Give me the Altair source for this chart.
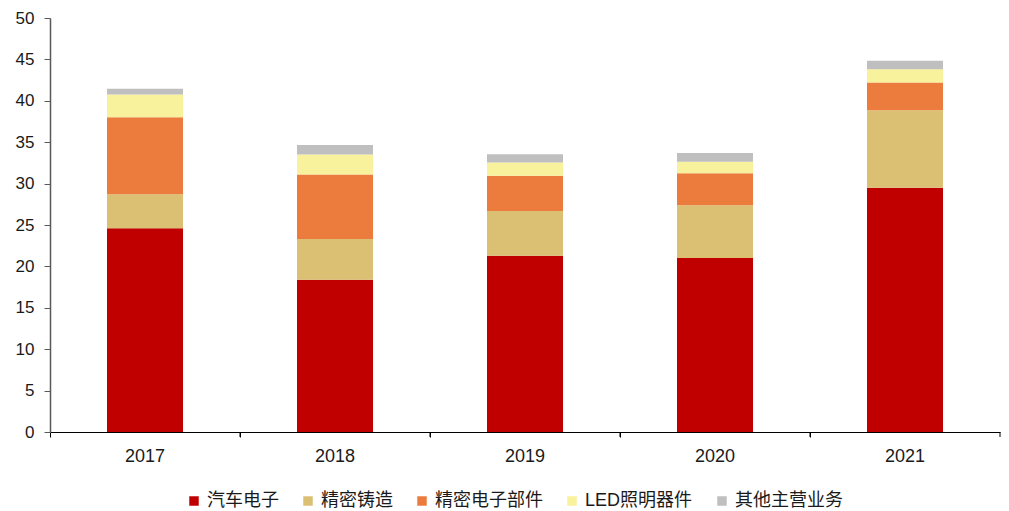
import altair as alt
import pandas as pd

# Revenue by business line (亿元), one stacked bar per year
years = ["2017", "2018", "2019", "2020", "2021"]
series = ["汽车电子", "精密铸造", "精密电子部件", "LED照明器件", "其他主营业务"]
colors = ["#C00000", "#DBC074", "#EB7C3D", "#F9F29C", "#BFBFBF"]

auto_electronics = [24.6, 18.4, 21.3, 21.0, 29.5]
precision_casting = [4.1, 4.9, 5.4, 6.4, 9.35]
precision_parts = [9.3, 7.8, 4.25, 3.85, 3.35]
led_lighting = [2.75, 2.4, 1.6, 1.4, 1.6]
other_business = [0.7, 1.15, 1.0, 1.05, 1.05]

values_by_series = [auto_electronics, precision_casting, precision_parts,
                    led_lighting, other_business]

rows = []
for s_idx, (name, vals) in enumerate(zip(series, values_by_series)):
    for year, v in zip(years, vals):
        rows.append({"year": year, "series": name, "value": v, "order": s_idx})
df = pd.DataFrame(rows)

font = "Liberation Sans, Arial, Noto Sans CJK SC"

x_scale = alt.Scale(domain=years, paddingInner=0, paddingOuter=0)

bars = alt.Chart(df).mark_bar(width=alt.RelativeBandSize(0.4)).encode(
    x=alt.X("year:N", scale=x_scale, sort=years, title=None,
            axis=alt.Axis(labelAngle=0, bandPosition=0, tickSize=5,
                          labelPadding=10, labelFontSize=18, labelFont=font,
                          labelColor="#1a1a1a", domainColor="#000000",
                          tickColor="#000000", domainWidth=1, tickWidth=1)),
    y=alt.Y("value:Q", stack="zero", title=None,
            scale=alt.Scale(domain=[0, 50], nice=False),
            axis=alt.Axis(values=list(range(0, 51, 5)), grid=False, tickSize=6,
                          labelPadding=10, labelFontSize=17, labelFont=font,
                          labelColor="#1a1a1a", domainColor="#595959",
                          tickColor="#595959", domainWidth=1.5, tickWidth=1)),
    color=alt.Color("series:N", sort=series,
                    scale=alt.Scale(domain=series, range=colors),
                    legend=alt.Legend(title=None, orient="none", direction="horizontal",
                                      legendX=135, legendY=474,
                                      symbolType="square", symbolSize=90,
                                      symbolStrokeWidth=0, labelFontSize=18,
                                      labelFont=font, labelColor="#1a1a1a",
                                      labelOffset=4, columnPadding=20, padding=0)),
    order=alt.Order("order:Q", sort="ascending"),
)

# closing tick at the right end of the category axis
end_ticks = alt.Chart(df[df["series"] == series[0]]).mark_rule(
    color="#000000", strokeWidth=1
).encode(
    x=alt.X("year:N", scale=x_scale, sort=years, bandPosition=1),
    y=alt.value(414),
    y2=alt.value(419),
)

chart = alt.layer(bars, end_ticks).properties(
    width=950, height=414,
    padding={"left": 50, "top": 18, "right": 9, "bottom": 79},
    autosize=alt.AutoSizeParams(type="none"),
).configure_view(stroke=None)

chart.save("out.html", embed_options={"renderer": "svg", "actions": False})
